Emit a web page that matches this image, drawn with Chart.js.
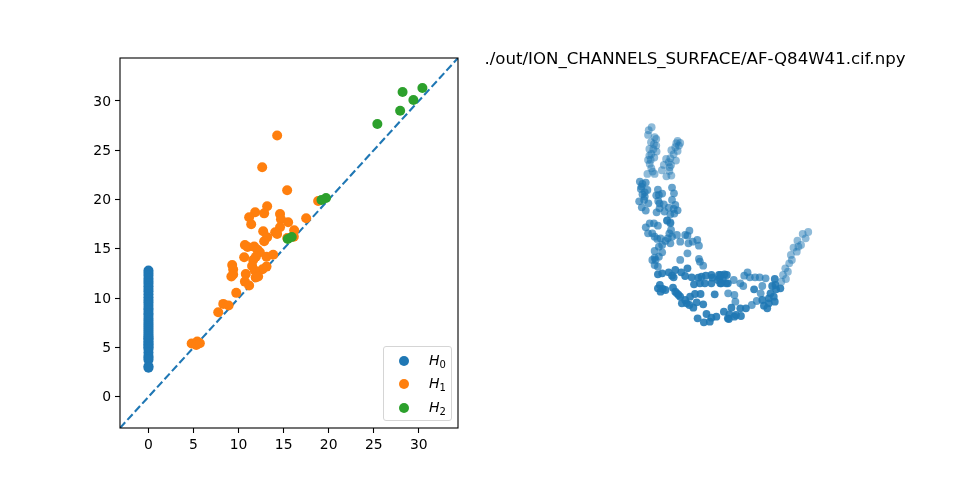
<!DOCTYPE html>
<html>
<head>
<meta charset="utf-8">
<style>
html,body{margin:0;padding:0;background:#fff;width:960px;height:480px;overflow:hidden}
canvas{position:absolute;top:0}
#left{left:0}
#right{left:430px}
#legend{position:absolute;left:383px;top:346px;width:67px;height:73px;border:1px solid #d5d5d5;border-radius:3px;background:rgba(255,255,255,.8);font-family:"DejaVu Sans";color:#000}
.dot{position:absolute;left:14.5px;width:10px;height:10px;border-radius:50%}
.lab{position:absolute;left:45px;font-size:14px;font-style:italic;line-height:16px}
.lab sub{font-size:10px;font-style:normal;line-height:0;vertical-align:-3px}
</style>
<script src="https://cdn.jsdelivr.net/npm/chart.js@4/dist/chart.umd.min.js"></script>
</head>
<body>
<canvas id="left" width="960" height="480"></canvas>
<canvas id="right" width="530" height="480"></canvas>
<div id="legend"></div>
<script>
const TITLE = "./out/ION_CHANNELS_SURFACE/AF-Q84W41.cif.npy";
const tickValues = [0,5,10,15,20,25,30];
const legendNames = ["0","1","2"];
const h0Deaths = [12.8,12.55,12.3,12.0,11.75,11.5,11.2,10.95,10.7,10.4,10.1,9.85,9.6,9.3,9.0,8.8,8.5,8.3,8.0,7.75,7.5,7.3,7.1,6.9,6.7,6.5,6.3,6.1,5.95,5.8,5.6,5.45,5.3,5.15,5.0,4.85,4.5,4.15,3.95,3.75,3.1,2.95];
const h1Points = [[14.28,26.5],[12.62,23.27],[15.39,20.94],[18.83,19.86],[17.5,18.1],[13.17,19.32],[11.84,18.71],[12.84,18.6],[11.17,18.2],[11.4,17.5],[14.6,18.54],[14.7,18.0],[15.5,17.7],[14.6,17.2],[12.73,16.78],[16.17,16.89],[13.17,16.18],[12.84,15.77],[14.06,16.69],[14.28,16.5],[15.4,16.1],[16.13,16.24],[10.7,15.4],[11.0,15.2],[11.73,15.23],[12.1,14.9],[12.36,14.66],[10.62,14.15],[11.92,14.2],[13.84,14.4],[13.1,14.2],[11.62,13.88],[9.29,13.37],[9.4,12.9],[9.4,12.4],[9.2,12.2],[11.5,13.27],[10.8,12.46],[13.1,13.2],[12.66,12.94],[11.8,12.8],[12.17,12.2],[11.9,12.1],[10.7,11.68],[11.17,11.28],[9.74,10.54],[8.3,9.42],[8.89,9.25],[7.74,8.58],[4.79,5.4],[5.41,5.6],[5.3,5.25],[5.7,5.44]];
const h2Points = [[25.4,27.66],[28.2,30.9],[27.93,29.0],[29.4,30.1],[30.4,31.3],[19.7,20.16],[19.2,19.95],[15.46,16.0],[15.9,16.2]];
const diagonal = [[-3.16,-3.16],[34.35,34.35]];
const cloudFar = [[93,37],[84,46],[82,60],[102,67],[107,72],[91,82],[100,88],[107,92],[86,102],[98,103],[108,110],[92,117],[86,122],[101,128],[82,135],[90,135],[87,147],[92,160],[96,170],[80,177],[102,177],[172,78],[180,84],[168,85],[176,92],[165,97],[153,106],[172,108],[160,118],[137,132],[150,130],[167,137],[145,142],[130,150],[152,150],[148,157],[124,166],[147,168],[138,184],[153,182],[570,351],[553,357],[562,370],[537,377],[548,390],[525,398],[540,395],[535,410],[517,420],[520,435],[512,445],[500,460],[508,470],[493,480],[502,492],[488,500]];
const cloudMid = [[57,200],[75,203],[65,207],[62,215],[60,222],[80,225],[72,232],[65,238],[72,245],[70,255],[55,259],[83,265],[63,277],[75,287],[112,224],[125,236],[107,241],[115,240],[113,258],[117,265],[130,268],[117,280],[145,278],[132,290],[108,292],[155,218],[161,235],[155,255],[165,270],[160,282],[172,286],[150,298],[162,296],[140,316],[150,322],[75,337],[87,325],[100,325],[112,332],[82,355],[95,355],[102,365],[110,372],[120,370],[140,317],[150,325],[152,345],[147,355],[155,365],[142,370],[135,378],[150,385],[170,360],[180,380],[195,360],[208,347],[202,362],[205,385],[218,380],[232,375],[237,392],[125,390],[115,395],[102,408],[125,412],[115,425],[102,428],[95,435],[105,435],[102,450],[112,455],[180,435],[202,415],[237,432],[240,440],[250,452],[385,472],[375,482],[392,487],[408,487],[422,487],[440,490],[343,495],[363,505],[372,513],[425,535],[326,535],[345,540],[348,560],[398,570],[413,558],[430,513]];
const cloudNear = [[112,478],[125,475],[145,472],[155,482],[165,465],[160,487],[183,472],[195,483],[202,460],[215,487],[235,488],[245,485],[258,482],[275,480],[278,488],[298,480],[315,478],[322,480],[222,508],[240,505],[255,505],[275,505],[305,505],[325,505],[295,495],[300,490],[118,510],[112,520],[127,522],[120,530],[135,525],[158,518],[165,530],[175,540],[180,545],[170,535],[185,565],[200,565],[210,545],[225,537],[242,537],[195,555],[208,570],[220,578],[230,562],[250,568],[285,538],[233,610],[252,622],[260,597],[275,608],[270,620],[290,605],[313,590],[325,610],[405,523],[430,555],[336,578],[363,580],[380,580],[350,600],[365,603],[330,598],[328,612],[345,605],[303,480],[310,495],[320,505],[302,505],[468,492],[460,513],[485,520],[470,510],[472,523],[455,535],[465,545],[450,550],[468,560],[450,565],[435,572],[445,580]];
const seriesColors = ["#1f77b4","#ff7f0e","#2ca02c"];

const frame = {id:"frame",afterDraw(c){const a=c.chartArea,x=c.ctx;x.save();x.strokeStyle="#000";x.lineWidth=1.1;x.strokeRect(a.left,a.top,a.right-a.left,a.bottom-a.top);x.restore();}};
const axis = (min,max,size,key,labelOffset) => ({type:"linear",min,max,
  afterFit(s){s[key]=size;},
  border:{display:false},
  grid:{drawOnChartArea:false,drawTicks:true,tickLength:5,tickColor:"#000",tickWidth:1.1},
  afterBuildTicks(s){s.ticks=tickValues.map(v=>({value:v}));},
  ticks:{color:"#000",padding:4,labelOffset,maxRotation:0,autoSkip:false,font:{family:"DejaVu Sans",size:13.9},callback:v=>String(v)}});
const toPts = a => a.map(([x,y])=>({x,y}));

new Chart(document.getElementById("left"),{type:"scatter",plugins:[frame],
  data:{datasets:[
    {label:"H0",order:3,data:h0Deaths.map(y=>({x:0,y})),backgroundColor:seriesColors[0],pointRadius:5,pointHoverRadius:5,borderWidth:0},
    {label:"H1",order:2,data:toPts(h1Points),backgroundColor:seriesColors[1],pointRadius:5,pointHoverRadius:5,borderWidth:0},
    {label:"H2",order:1,data:toPts(h2Points),backgroundColor:seriesColors[2],pointRadius:5,pointHoverRadius:5,borderWidth:0},
    {label:"diagonal",order:4,type:"line",data:toPts(diagonal),borderColor:seriesColors[0],borderWidth:2.1,borderDash:[7.7,3.3],pointRadius:0,fill:false}
  ]},
  options:{responsive:false,animation:false,devicePixelRatio:1,
    layout:{padding:{left:0,right:502,top:58,bottom:0}},
    plugins:{legend:{display:false},title:{display:false},tooltip:{enabled:false}},
    scales:{x:axis(-3.16,34.35,52,"height",0),y:axis(-3.16,34.35,120,"width",1)}}});

const hidden = (min,max,reverse)=>({type:"linear",min,max,reverse,display:false});
new Chart(document.getElementById("right"),{type:"scatter",
  data:{datasets:[
    {label:"far",data:toPts(cloudFar),backgroundColor:"rgba(31,119,180,.5)",pointRadius:3.9,borderWidth:0},
    {label:"mid",data:toPts(cloudMid),backgroundColor:"rgba(31,119,180,.68)",pointRadius:3.9,borderWidth:0},
    {label:"near",data:toPts(cloudNear),backgroundColor:"rgba(31,119,180,.88)",pointRadius:3.9,borderWidth:0}
  ]},
  options:{responsive:false,animation:false,devicePixelRatio:1,
    layout:{padding:{left:0,right:0,top:0,bottom:150}},
    plugins:{legend:{display:false},tooltip:{enabled:false},
      title:{display:true,text:TITLE,color:"#000",font:{family:"DejaVu Sans",size:16.6,weight:"normal"},padding:{top:50,bottom:45}}},
    scales:{x:hidden(-570,1020,false),y:hidden(0,645,true)}}});

const lg=document.getElementById("legend");
legendNames.forEach((n,i)=>{
  const top=[8.5,32,55.5][i];
  const d=document.createElement("div");d.className="dot";d.style.top=top+"px";d.style.background=seriesColors[i];lg.appendChild(d);
  const l=document.createElement("div");l.className="lab";l.style.top=(top-4)+"px";l.innerHTML="H<sub>"+n+"</sub>";lg.appendChild(l);
});
</script>
</body>
</html>
